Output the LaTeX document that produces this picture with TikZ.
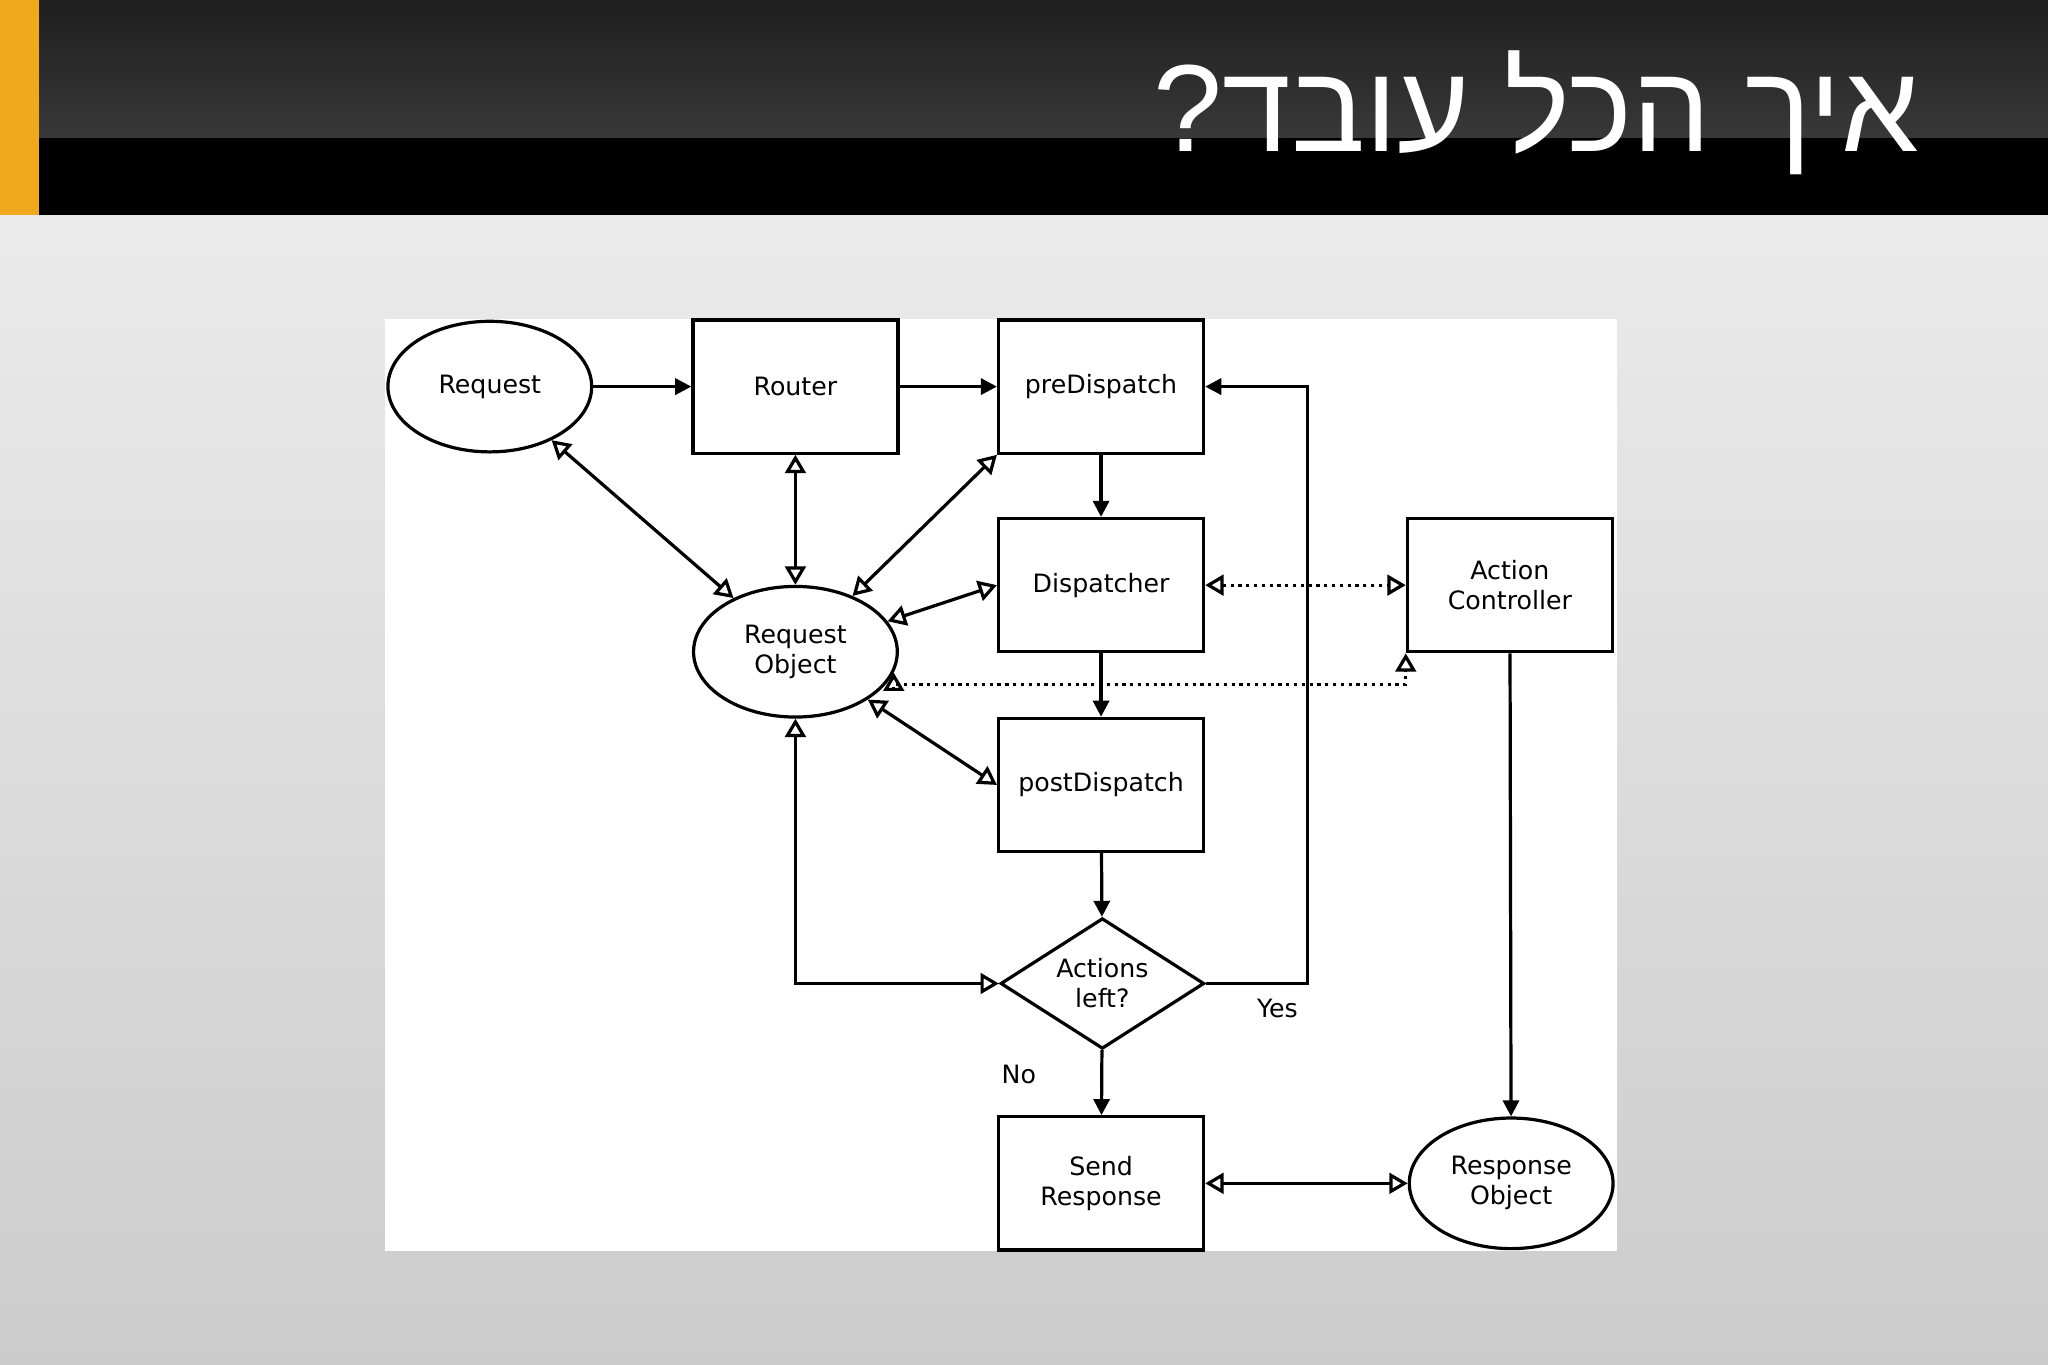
\documentclass[tikz,border=0pt]{standalone}
\usepackage{fontspec}
\setmainfont{DejaVu Sans}
\newfontfamily\hebfont[Script=Hebrew]{Liberation Sans}
\TeXXeTstate=1
\usetikzlibrary{shapes.geometric,arrows.meta,calc}
\definecolor{orng}{HTML}{F0A81C}
\begin{document}
\begin{tikzpicture}[x=0.1mm,y=-0.1mm,
  every node/.style={font=\fontsize{5.5}{6.5}\selectfont, align=center},
  boxn/.style={draw,line width=0.7pt,minimum width=15.7mm,minimum height=10.2mm,inner sep=0},
  elln/.style={draw,ellipse,line width=0.7pt,minimum width=15.6mm,minimum height=10mm,inner sep=0},
  conn/.style={line width=0.7pt,-{Triangle[length=3.5pt,width=3.5pt]}},
  openb/.style={line width=0.7pt,{Triangle[open,length=4pt,width=4.5pt]}-{Triangle[open,length=4pt,width=4.5pt]}}]
\useasboundingbox (0,0) rectangle (1568,1045);
\shade[top color=white!92!black,bottom color=white!80!black] (0,165) rectangle (1568,1045);
\fill[black] (0,0) rectangle (1568,165);
\shade[top color=black!88,bottom color=black!78] (0,0) rectangle (1568,105);
\fill[orng] (0,0) rectangle (30,165);
\node[anchor=east,text=white,font=\hebfont\fontsize{27}{30}\selectfont] (title) at (1482,86) {\beginR איך הכל עובד?\endR};
\fill[white] (295,244) rectangle (1238,958);
\node[elln] (req) at (375,296) {Request};
\node[boxn] (rt) at (609,296) {Router};
\node[boxn] (pd) at (843,296) {preDispatch};
\node[boxn] (disp) at (843,448) {Dispatcher};
\node[boxn] (ac) at (1156,448) {Action\\Controller};
\node[elln] (ro) at (609,499) {Request\\Object};
\node[boxn] (post) at (843,601) {postDispatch};
\node[draw,diamond,aspect=1.56,line width=0.7pt,minimum width=15.6mm,minimum height=10mm,inner sep=0] (dia) at (844,753) {Actions\\left?};
\node[boxn] (send) at (843,906) {Send\\Response};
\node[elln] (rsp) at (1157,906) {Response\\Object};
\node (yes) at (978,772) {Yes};
\node (no) at (780,823) {No};
\draw[conn] (req) -- (rt);
\draw[conn] (rt) -- (pd);
\draw[conn] (pd) -- (disp);
\draw[conn] (disp) -- (post);
\draw[conn] (post) -- (dia);
\draw[conn] (dia) -- (send);
\draw[conn] (dia.east) -- ++(78,0) |- (pd.east);
\draw[conn] (ac) -- (rsp);
\draw[openb] (req) -- (ro);
\draw[openb] (rt) -- (ro);
\draw[openb] (pd.south west) -- (ro);
\draw[openb] (disp.west) -- (ro);
\draw[openb] (post.west) -- (ro);
\draw[openb] (ro.south) |- (dia.west);
\draw[openb,densely dotted] (disp.east) -- (ac.west);
\draw[openb,densely dotted] (ro.-12) |- ($(ac.south west)+(0,24)$) -- (ac.south west);
\draw[openb] (send) -- (rsp);
\end{tikzpicture}
\end{document}
